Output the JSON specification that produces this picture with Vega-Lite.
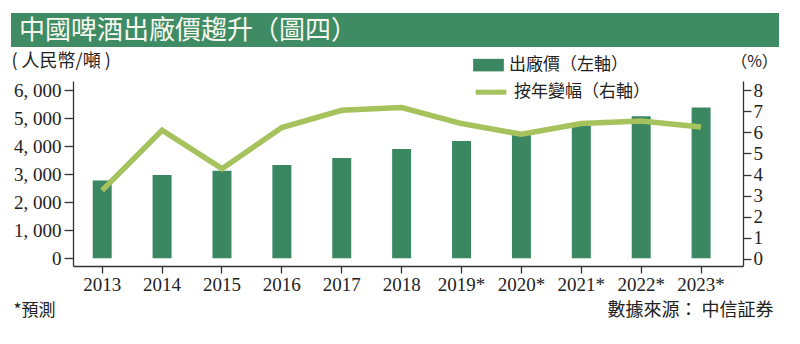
{
  "$schema": "https://vega.github.io/schema/vega-lite/v6.json",
  "padding": {"left": 11, "top": 13, "right": 0, "bottom": 0},
  "background": "white",
  "spacing": 2,
  "config": {"view": {"stroke": null}, "font": "Noto Sans CJK TC"},
  "resolve": {"scale": {"fill": "independent", "stroke": "independent", "x": "independent", "y": "independent"}, "legend": {"fill": "independent", "stroke": "independent"}},
  "vconcat": [
    {
      "width": 768,
      "height": 34,
      "data": {"values": [{"t": "中國啤酒出廠價趨升（圖四）"}]},
      "encoding": {
        "x": {"datum": 0, "type": "quantitative", "scale": {"domain": [0, 1], "range": [-62, 706]}, "axis": null}
      },
      "layer": [
        {
          "mark": {"type": "rect", "color": "#3f8b64"},
          "encoding": {"x2": {"datum": 1}}
        },
        {
          "mark": {"type": "text", "align": "left", "baseline": "middle", "dx": 8, "dy": 1, "color": "#f7f7ee", "fontSize": 26, "font": "Noto Sans CJK TC"},
          "encoding": {"text": {"field": "t"}}
        }
      ]
    },
    {
      "width": 670,
      "height": 185,
      "data": {
        "values": [
          {"year": "2013", "price": 2775, "yoy": 3.25},
          {"year": "2014", "price": 2975, "yoy": 6.1},
          {"year": "2015", "price": 3130, "yoy": 4.28},
          {"year": "2016", "price": 3333, "yoy": 6.23},
          {"year": "2017", "price": 3580, "yoy": 7.05},
          {"year": "2018", "price": 3905, "yoy": 7.18},
          {"year": "2019*", "price": 4190, "yoy": 6.42},
          {"year": "2020*", "price": 4430, "yoy": 5.91},
          {"year": "2021*", "price": 4730, "yoy": 6.42},
          {"year": "2022*", "price": 5070, "yoy": 6.54},
          {"year": "2023*", "price": 5390, "yoy": 6.26}
        ]
      },
      "layer": [
        {
          "mark": {"type": "bar"},
          "encoding": {
            "x": {
              "field": "year",
              "type": "nominal",
              "sort": null,
              "scale": {"paddingInner": 0.683, "paddingOuter": 0.435, "align": 0.378},
              "axis": {
                "orient": "bottom",
                "title": "*預測",
                "titleX": -60,
                "titleY": 44.5,
                "titleAlign": "left",
                "titleBaseline": "middle",
                "titleFontSize": 17,
                "titleFontWeight": "normal",
                "titleFont": "Noto Sans CJK TC",
                "titleColor": "#222222",
                "labelAngle": 0,
                "labelFont": "Liberation Serif",
                "labelFontSize": 19,
                "labelColor": "#222222",
                "tickSize": 7,
                "labelPadding": 2,
                "domainColor": "#333333",
                "tickColor": "#333333",
                "domainWidth": 1.3,
                "tickWidth": 1.3,
                "grid": false
              }
            },
            "y": {
              "field": "price",
              "type": "quantitative",
              "scale": {"domain": [-275, 6332], "nice": false, "zero": false},
              "axis": {
                "orient": "left",
                "values": [0, 1000, 2000, 3000, 4000, 5000, 6000],
                "labelExpr": "replace(format(datum.value, ','), ',', ', ')",
                "title": "( 人民幣/噸 )",
                "titleAngle": 0,
                "titleX": -62,
                "titleY": -20,
                "titleAlign": "left",
                "titleBaseline": "middle",
                "titleFontSize": 18,
                "titleFontWeight": "normal",
                "titleFont": "Noto Sans CJK TC",
                "titleColor": "#222222",
                "labelFont": "Liberation Serif",
                "labelFontSize": 19,
                "labelColor": "#222222",
                "tickSize": 9,
                "labelPadding": 3,
                "domainColor": "#333333",
                "tickColor": "#333333",
                "domainWidth": 1.3,
                "tickWidth": 1.3,
                "grid": false
              }
            },
            "fill": {
              "datum": "出廠價（左軸）",
              "type": "nominal",
              "scale": {"range": ["#3a8762"]},
              "legend": {
                "orient": "none",
                "legendX": 400,
                "legendY": -31.4,
                "title": null,
                "padding": 0,
                "symbolType": "M-1,-0.41H1V0.41H-1Z",
                "symbolSize": 942,
                "symbolStrokeWidth": 0,
                "symbolOpacity": 1,
                "labelFontSize": 17,
                "labelFont": "Noto Sans CJK TC",
                "labelColor": "#222222",
                "labelOffset": 5
              }
            }
          }
        },
        {
          "mark": {"type": "line", "strokeWidth": 5.5, "strokeCap": "butt", "strokeJoin": "miter"},
          "encoding": {
            "x": {
              "field": "year",
              "type": "nominal",
              "sort": null,
              "axis": {
                "orient": "bottom",
                "title": "數據來源： 中信証券",
                "titleX": 700,
                "titleY": 44.5,
                "titleAlign": "right",
                "titleBaseline": "middle",
                "titleFontSize": 18,
                "titleFontWeight": "normal",
                "titleFont": "Noto Sans CJK TC",
                "titleColor": "#222222",
                "labels": false,
                "ticks": false,
                "domain": false,
                "grid": false
              }
            },
            "y": {
              "field": "yoy",
              "type": "quantitative",
              "scale": {"domain": [-0.34, 8.44], "nice": false, "zero": false},
              "axis": {
                "orient": "right",
                "values": [0, 1, 2, 3, 4, 5, 6, 7, 8],
                "title": "（%）",
                "titleAngle": 0,
                "titleX": 11,
                "titleY": -20,
                "titleAlign": "center",
                "titleBaseline": "middle",
                "titleFontSize": 16,
                "titleFontWeight": "normal",
                "titleFont": "Noto Sans CJK TC",
                "titleColor": "#222222",
                "labelFont": "Liberation Serif",
                "labelFontSize": 19,
                "labelColor": "#222222",
                "tickSize": 8,
                "labelPadding": 2,
                "domainColor": "#333333",
                "tickColor": "#333333",
                "domainWidth": 1.3,
                "tickWidth": 1.3,
                "grid": false
              }
            },
            "stroke": {
              "datum": "按年變幅（右軸）",
              "type": "nominal",
              "scale": {"range": ["#a6c25d"]},
              "legend": {
                "orient": "none",
                "legendX": 400,
                "legendY": -6.8,
                "title": null,
                "padding": 0,
                "symbolType": "stroke",
                "symbolSize": 942,
                "symbolStrokeWidth": 5,
                "labelFontSize": 17,
                "labelFont": "Noto Sans CJK TC",
                "labelColor": "#222222",
                "labelOffset": 5
              }
            }
          }
        }
      ],
      "resolve": {"scale": {"y": "independent"}, "axis": {"x": "independent"}}
    }
  ]
}
